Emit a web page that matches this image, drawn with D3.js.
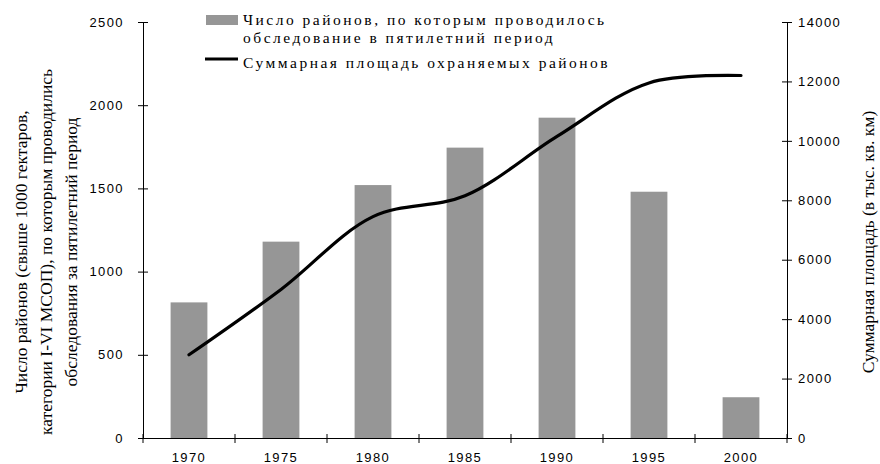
<!DOCTYPE html>
<html>
<head>
<meta charset="utf-8">
<script src="https://cdn.jsdelivr.net/npm/d3@7"></script>
<style>
    body { margin: 0; background: #fff; }
    .tick text { font-family: "Liberation Sans", Arial, sans-serif; font-size: 13px; letter-spacing: 1.4px; fill: #000; }
    .serif { font-family: "Liberation Serif", "Times New Roman", serif; fill: #000; }
</style>
</head>
<body>
<script>
// data
var years = ["1970", "1975", "1980", "1985", "1990", "1995", "2000"];
var sites = [815, 1180, 1520, 1745, 1925, 1480, 245];
var area = [2800, 5000, 7450, 8150, 10150, 11950, 12200];
var leftTicks = [0, 500, 1000, 1500, 2000, 2500];
var rightTicks = [0, 2000, 4000, 6000, 8000, 10000, 12000, 14000];
var legendBar = ["Число районов, по которым проводилось", "обследование в пятилетний период"];
var legendLine = "Суммарная площадь охраняемых районов";
var leftTitle = ["Число районов (свыше 1000 гектаров,", "категории I-VI МСОП), по которым проводились", "обследования за пятилетний период"];
var rightTitle = "Суммарная площадь (в тыс. кв. км)";

var W = 880, H = 464;
var margin = { top: 22, right: 93, bottom: 26, left: 143 };
var width = W - margin.left - margin.right,
    height = H - margin.top - margin.bottom;

var svg = d3.select("body").append("svg").attr("width", W).attr("height", H);
var g = svg.append("g").attr("transform", "translate(" + margin.left + "," + margin.top + ")");

var x = d3.scaleBand().domain(years).range([0, width]).paddingInner(0.6).paddingOuter(0.3);
var xb = d3.scaleBand().domain(years).range([0, width]); // boundaries for ticks
var y = d3.scaleLinear().domain([0, 2500]).range([height, 0]);
var y2 = d3.scaleLinear().domain([0, 14000]).range([height, 0]);

//Bars
g.selectAll(".bar").data(sites).enter().append("rect")
    .attr("class", "bar")
    .attr("x", function(d, i) { return x(years[i]); })
    .attr("width", x.bandwidth())
    .attr("y", function(d) { return y(d); })
    .attr("height", function(d) { return height - y(d); })
    .attr("fill", "#969696");

//Line
var line = d3.line()
    .x(function(d, i) { return xb(years[i]) + xb.bandwidth() / 2; })
    .y(function(d) { return y2(d); })
    .curve(d3.curveCatmullRom.alpha(0.5));

g.append("path").datum(area)
    .attr("d", line)
    .attr("fill", "none")
    .attr("stroke", "#000")
    .attr("stroke-width", 3.2)
    .attr("stroke-linecap", "round");

//Axes
var axL = g.append("g").call(d3.axisLeft(y).tickValues(leftTicks).tickFormat(d3.format("d"))
    .tickSize(5).tickSizeOuter(0).tickPadding(14));
axL.selectAll(".tick line").attr("x1", 5);

var axR = g.append("g").attr("transform", "translate(" + width + ",0)")
    .call(d3.axisRight(y2).tickValues(rightTicks).tickFormat(d3.format("d"))
    .tickSize(5).tickSizeOuter(0).tickPadding(6));
axR.selectAll(".tick line").attr("x1", -5);

var axB = g.append("g").attr("transform", "translate(0," + height + ")")
    .call(d3.axisBottom(xb).tickSize(0).tickSizeOuter(0).tickPadding(15));

var bounds = years.map(function(d) { return xb(d); }).concat([width]);
axB.selectAll(".sep").data(bounds).enter().append("line")
    .attr("class", "sep")
    .attr("x1", function(d) { return d; }).attr("x2", function(d) { return d; })
    .attr("y1", -4).attr("y2", 5)
    .attr("stroke", "#000");

g.selectAll(".domain").attr("stroke", "#000");

//Legend
var lg = svg.append("g").attr("transform", "translate(206,0)");
lg.append("rect").attr("x", 0).attr("y", 15).attr("width", 32).attr("height", 10).attr("fill", "#969696");
lg.append("line").attr("x1", -1).attr("x2", 32).attr("y1", 59).attr("y2", 59)
    .attr("stroke", "#000").attr("stroke-width", 3.2);

lg.selectAll(".lt").data(legendBar.concat([legendLine])).enter().append("text")
    .attr("class", "serif lt")
    .attr("x", 37)
    .attr("y", function(d, i) { return [25, 43, 68][i]; })
    .style("font-size", "15.5px")
    .style("letter-spacing", "2.5px")
    .text(function(d) { return d; });

//Axis titles
var cy = margin.top + height / 2;
svg.selectAll(".ltitle").data(leftTitle).enter().append("text")
    .attr("class", "serif ltitle")
    .attr("text-anchor", "middle")
    .attr("transform", function(d, i) { return "translate(" + (27 + i * 25) + "," + (cy + 22) + ")rotate(-90)"; })
    .style("font-size", "17.5px")
    .text(function(d) { return d; });

svg.append("text")
    .attr("class", "serif")
    .attr("text-anchor", "middle")
    .attr("transform", "translate(874," + (cy + 12) + ")rotate(-90)")
    .style("font-size", "17.5px")
    .text(rightTitle);
</script>
</body>
</html>
